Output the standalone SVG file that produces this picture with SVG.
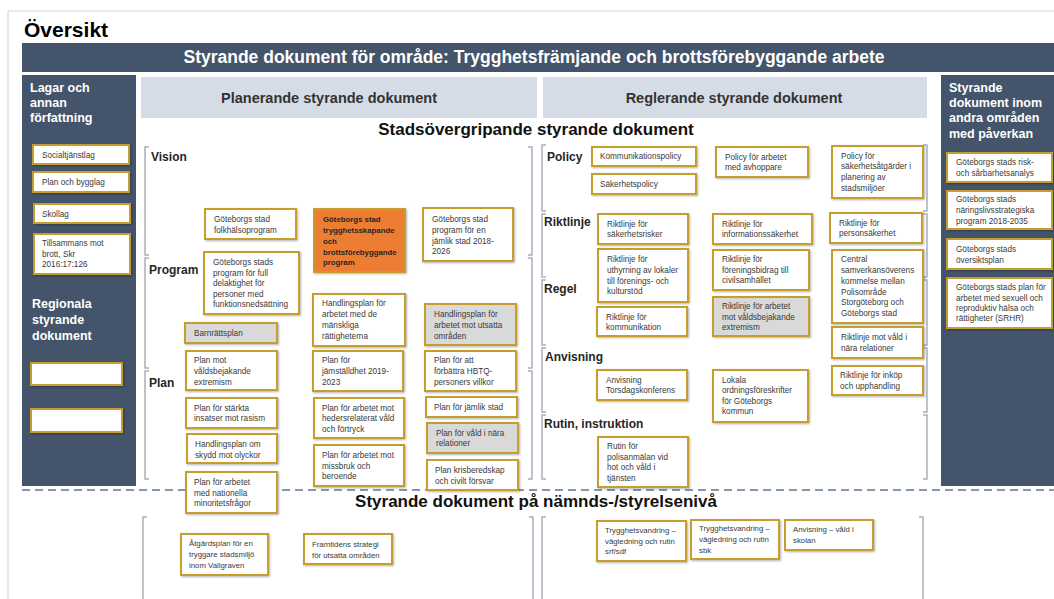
<svg xmlns="http://www.w3.org/2000/svg" width="1054" height="599" viewBox="0 0 1054 599">
<defs>
<filter id="sh" x="-10%" y="-15%" width="130%" height="150%"><feDropShadow dx="1" dy="1" stdDeviation="1" flood-color="#000" flood-opacity="0.3"/></filter>
<style>
.n{fill:#fff;stroke:#C59E2D;stroke-width:2;filter:url(#sh)}
.g{fill:#D9D9D9}
.o{fill:#ED7D31}
.t{font-family:"Liberation Sans",Arial,sans-serif;font-size:8.2px;fill:#3a3a3a}
.tb{font-family:"Liberation Sans",Arial,sans-serif;font-size:7.8px;font-weight:bold;fill:#262626}
.ts{font-family:"Liberation Sans",Arial,sans-serif;font-size:7.8px;fill:#3a3a3a}
.lab{font-family:"Liberation Sans",Arial,sans-serif;font-size:12px;font-weight:bold;fill:#262626}
.wh{font-family:"Liberation Sans",Arial,sans-serif;font-size:12.5px;font-weight:bold;fill:#fff}
.hd{font-family:"Liberation Sans",Arial,sans-serif;font-size:14.5px;font-weight:bold;fill:#333;text-anchor:middle}
.sec{font-family:"Liberation Sans",Arial,sans-serif;font-size:17px;font-weight:bold;fill:#111;text-anchor:middle}
.br{fill:none;stroke:#A9AFB9;stroke-width:1.5}
.dark{fill:#44546A}
.light{fill:#D6DCE5}
</style>
</defs>
<rect width="1054" height="599" fill="#fff"/>
<path d="M8 599 V11 H1054" fill="none" stroke="#D4D4D4" stroke-width="1"/>
<text x="24" y="37" font-family="Liberation Sans, Arial, sans-serif" font-size="21px" font-weight="bold" fill="#000">Översikt</text>

<g id="title-bar">
<rect class="dark" x="22" y="43" width="1032" height="29"/>
<text x="534" y="63" font-family="Liberation Sans, Arial, sans-serif" font-size="17.5px" font-weight="bold" fill="#fff" text-anchor="middle">Styrande dokument för område: Trygghetsfrämjande och brottsförebyggande arbete</text>
</g>

<g id="left-panel">
<rect class="dark" x="22" y="75" width="114" height="411"/>
<text class="wh"><tspan x="30" y="92">Lagar och</tspan><tspan x="30" y="107">annan</tspan><tspan x="30" y="122">författning</tspan></text>
<text class="wh" font-size="13px"><tspan x="32" y="308">Regionala</tspan><tspan x="32" y="324">styrande</tspan><tspan x="32" y="340">dokument</tspan></text>
</g>

<g id="right-panel">
<rect class="dark" x="941" y="75" width="113" height="411"/>
<text class="wh" font-size="13px"><tspan x="949" y="92">Styrande</tspan><tspan x="949" y="107">dokument inom</tspan><tspan x="949" y="122">andra områden</tspan><tspan x="949" y="138">med påverkan</tspan></text>
</g>

<g id="headers">
<rect class="light" x="141" y="77" width="396" height="41"/>
<text class="hd" x="329" y="103">Planerande styrande dokument</text>
<rect class="light" x="543" y="77" width="384" height="41"/>
<text class="hd" x="734" y="103">Reglerande styrande dokument</text>
<text class="sec" x="536" y="135">Stadsövergripande styrande dokument</text>
<text class="sec" x="536" y="507">Styrande dokument på nämnds-/styrelsenivå</text>
</g>

<g id="connectors">
<line x1="22" y1="490" x2="1054" y2="490" stroke="#8497B0" stroke-width="2" stroke-dasharray="8 5"/>
<path class="br" d="M149 147 H145 V255 H149 M149 258 H145 V368 H149 M149 371 H145 V479 H149"/>
<path class="br" d="M528 147 H532 V255 H528 M528 258 H532 V368 H528 M528 371 H532 V479 H528"/>
<path class="br" d="M546 145 H542 V211 H546 M546 214 H542 V277 H546 M546 280 H542 V345 H546 M546 348 H542 V412 H546 M546 415 H542 V479 H546"/>
<path class="br" d="M923 145 H927 V211 H923 M923 214 H927 V277 H923 M923 280 H927 V345 H923 M923 348 H927 V412 H923 M923 415 H927 V479 H923"/>
<path class="br" d="M147 517 H143 V599"/>
<path class="br" d="M529 517 H533 V599"/>
<path class="br" d="M546 517 H542 V599"/>
<path class="br" d="M919 517 H923 V599"/>
</g>

<g id="section-labels">
<text class="lab" x="151" y="161">Vision</text>
<text class="lab" x="149" y="274">Program</text>
<text class="lab" x="149" y="387">Plan</text>
<text class="lab" x="547" y="161">Policy</text>
<text class="lab" x="544" y="226">Riktlinje</text>
<text class="lab" x="544" y="293">Regel</text>
<text class="lab" x="545" y="361">Anvisning</text>
<text class="lab" x="544" y="428">Rutin, instruktion</text>
</g>

<g id="n-socialtjanstlag"><rect class="n" x="33" y="145" width="96" height="19"/><text class="t"><tspan x="42" y="158">Socialtjänstlag</tspan></text></g>
<g id="n-planbygglag"><rect class="n" x="33" y="172" width="96" height="20"/><text class="t"><tspan x="42" y="185">Plan och bygglag</tspan></text></g>
<g id="n-skollag"><rect class="n" x="34" y="204" width="96" height="19"/><text class="t"><tspan x="42" y="217">Skollag</tspan></text></g>
<g id="n-tillsammans"><rect class="n" x="34" y="234" width="96" height="40"/><text class="t"><tspan x="42" y="246">Tillsammans mot</tspan><tspan x="42" y="257">brott, Skr</tspan><tspan x="42" y="267">2016:17:126</tspan></text></g>
<g id="n-regional1"><rect class="n" x="31" y="363" width="91" height="22"/></g>
<g id="n-regional2"><rect class="n" x="31" y="409" width="91" height="23"/></g>

<g id="r-risk"><rect class="n" x="947" y="153" width="105" height="29"/><text class="t"><tspan x="956" y="165">Göteborgs stads risk-</tspan><tspan x="956" y="176">och sårbarhetsanalys</tspan></text></g>
<g id="r-naringsliv"><rect class="n" x="947" y="191" width="105" height="38"/><text class="t"><tspan x="956" y="202">Göteborgs stads</tspan><tspan x="956" y="213">näringslivsstrategiska</tspan><tspan x="956" y="224">program  2018-2035</tspan></text></g>
<g id="r-oversikt"><rect class="n" x="947" y="239" width="105" height="30"/><text class="t"><tspan x="956" y="252">Göteborgs stads</tspan><tspan x="956" y="263">översiktsplan</tspan></text></g>
<g id="r-srhr"><rect class="n" x="947" y="278" width="105" height="50"/><text class="t"><tspan x="956" y="290">Göteborgs stads plan för</tspan><tspan x="956" y="301">arbetet med sexuell och</tspan><tspan x="956" y="311">reproduktiv hälsa och</tspan><tspan x="956" y="321">rättigheter (SRHR)</tspan></text></g>

<g id="p-folkhalso"><rect class="n" x="205" y="209" width="91" height="30"/><text class="t"><tspan x="214" y="222">Göteborgs stad</tspan><tspan x="214" y="233">folkhälsoprogram</tspan></text></g>
<g id="p-trygghet"><rect class="n o" x="314" y="209" width="91" height="63"/><text class="tb"><tspan x="323" y="222">Göteborgs stad</tspan><tspan x="323" y="233">trygghetsskapande</tspan><tspan x="323" y="244">och</tspan><tspan x="323" y="255">brottsförebyggande</tspan><tspan x="323" y="265">program</tspan></text></g>
<g id="p-jamlikprogram"><rect class="n" x="423" y="208" width="90" height="53"/><text class="t"><tspan x="432" y="222">Göteborgs stad</tspan><tspan x="432" y="233">program för en</tspan><tspan x="432" y="244">jämlik stad 2018-</tspan><tspan x="432" y="254">2026</tspan></text></g>
<g id="p-delaktighet"><rect class="n" x="204" y="252" width="95" height="62"/><text class="t"><tspan x="213" y="265">Göteborgs stads</tspan><tspan x="213" y="276">program för full</tspan><tspan x="213" y="286">delaktighet för</tspan><tspan x="213" y="297">personer med</tspan><tspan x="213" y="307">funktionsnedsättning</tspan></text></g>
<g id="p-rattigheter"><rect class="n" x="313" y="294" width="92" height="52"/><text class="t"><tspan x="322" y="306">Handlingsplan för</tspan><tspan x="322" y="317">arbetet med de</tspan><tspan x="322" y="328">mänskliga</tspan><tspan x="322" y="339">rättigheterna</tspan></text></g>
<g id="p-utsatta"><rect class="n g" x="425" y="304" width="91" height="41"/><text class="t"><tspan x="434" y="317">Handlingsplan för</tspan><tspan x="434" y="328">arbetet mot utsatta</tspan><tspan x="434" y="339">områden</tspan></text></g>
<g id="p-barnratt"><rect class="n g" x="185" y="323" width="92" height="20"/><text class="t"><tspan x="194" y="336">Barnrättsplan</tspan></text></g>
<g id="p-extremism"><rect class="n" x="186" y="351" width="91" height="39"/><text class="t"><tspan x="194" y="363">Plan mot</tspan><tspan x="194" y="374">våldsbejakande</tspan><tspan x="194" y="385">extremism</tspan></text></g>
<g id="p-jamstalldhet"><rect class="n" x="313" y="351" width="90" height="40"/><text class="t"><tspan x="322" y="363">Plan för</tspan><tspan x="322" y="374">jämställdhet 2019-</tspan><tspan x="322" y="385">2023</tspan></text></g>
<g id="p-hbtq"><rect class="n" x="425" y="351" width="91" height="40"/><text class="t"><tspan x="434" y="363">Plan för att</tspan><tspan x="434" y="374">förbättra HBTQ-</tspan><tspan x="434" y="385">personers villkor</tspan></text></g>
<g id="p-rasism"><rect class="n" x="186" y="398" width="91" height="30"/><text class="t"><tspan x="194" y="411">Plan för stärkta</tspan><tspan x="194" y="421">insatser mot rasism</tspan></text></g>
<g id="p-heder"><rect class="n" x="314" y="398" width="90" height="40"/><text class="t"><tspan x="322" y="411">Plan för arbetet mot</tspan><tspan x="322" y="421">hedersrelaterat våld</tspan><tspan x="322" y="432">och förtryck</tspan></text></g>
<g id="p-jamlikstad"><rect class="n" x="426" y="397" width="91" height="20"/><text class="t"><tspan x="434" y="410">Plan för jämlik stad</tspan></text></g>
<g id="p-olyckor"><rect class="n" x="187" y="434" width="90" height="29"/><text class="t"><tspan x="195" y="447">Handlingsplan om</tspan><tspan x="195" y="458">skydd mot olyckor</tspan></text></g>
<g id="p-missbruk"><rect class="n" x="314" y="445" width="90" height="41"/><text class="t"><tspan x="322" y="458">Plan för arbetet mot</tspan><tspan x="322" y="469">missbruk och</tspan><tspan x="322" y="479">beroende</tspan></text></g>
<g id="p-naravald"><rect class="n g" x="427" y="423" width="91" height="30"/><text class="t"><tspan x="436" y="436">Plan för våld i nära</tspan><tspan x="436" y="446">relationer</tspan></text></g>
<g id="p-kris"><rect class="n" x="427" y="460" width="91" height="30"/><text class="t"><tspan x="435" y="473">Plan krisberedskap</tspan><tspan x="435" y="484">och civilt försvar</tspan></text></g>
<g id="p-minoritet"><rect class="n" x="186" y="472" width="91" height="41"/><text class="t"><tspan x="194" y="485">Plan för arbetet</tspan><tspan x="194" y="496">med nationella</tspan><tspan x="194" y="506">minoritetsfrågor</tspan></text></g>

<g id="g-kommunikationspolicy"><rect class="n" x="592" y="147" width="104" height="19"/><text class="t"><tspan x="600" y="159">Kommunikationspolicy</tspan></text></g>
<g id="g-sakerhetspolicy"><rect class="n" x="592" y="174" width="104" height="20"/><text class="t"><tspan x="600" y="187">Säkerhetspolicy</tspan></text></g>
<g id="g-avhoppare"><rect class="n" x="716" y="147" width="92" height="30"/><text class="t"><tspan x="725" y="160">Policy för arbetet</tspan><tspan x="725" y="170">med avhoppare</tspan></text></g>
<g id="g-sakerhetsatgarder"><rect class="n" x="832" y="146" width="91" height="52"/><text class="t"><tspan x="841" y="159">Policy för</tspan><tspan x="841" y="169">säkerhetsåtgärder i</tspan><tspan x="841" y="180">planering av</tspan><tspan x="841" y="191">stadsmiljöer</tspan></text></g>
<g id="g-sakerhetsrisker"><rect class="n" x="598" y="214" width="90" height="30"/><text class="t"><tspan x="607" y="227">Riktlinje för</tspan><tspan x="607" y="237">säkerhetsrisker</tspan></text></g>
<g id="g-informationssakerhet"><rect class="n" x="713" y="214" width="99" height="30"/><text class="t"><tspan x="722" y="227">Riktlinje för</tspan><tspan x="722" y="237">informationssäkerhet</tspan></text></g>
<g id="g-personsakerhet"><rect class="n" x="830" y="213" width="92" height="30"/><text class="t"><tspan x="839" y="226">Riktlinje för</tspan><tspan x="839" y="236">personsäkerhet</tspan></text></g>
<g id="g-uthyrning"><rect class="n" x="598" y="249" width="90" height="53"/><text class="t"><tspan x="607" y="262">Riktlinje för</tspan><tspan x="607" y="273">uthyrning av lokaler</tspan><tspan x="607" y="284">till förenings- och</tspan><tspan x="607" y="294">kulturstöd</tspan></text></g>
<g id="g-foreningsbidrag"><rect class="n" x="713" y="250" width="96" height="40"/><text class="t"><tspan x="722" y="262">Riktlinje för</tspan><tspan x="722" y="273">föreningsbidrag till</tspan><tspan x="722" y="283">civilsamhället</tspan></text></g>
<g id="g-central"><rect class="n" x="832" y="250" width="91" height="73"/><text class="t"><tspan x="841" y="262">Central</tspan><tspan x="841" y="273">samverkansöverens</tspan><tspan x="841" y="284">kommelse mellan</tspan><tspan x="841" y="295">Polisområde</tspan><tspan x="841" y="305">Storgöteborg och</tspan><tspan x="841" y="316">Göteborgs stad</tspan></text></g>
<g id="g-kommunikation"><rect class="n" x="597" y="307" width="90" height="29"/><text class="t"><tspan x="606" y="320">Riktlinje för</tspan><tspan x="606" y="330">kommunikation</tspan></text></g>
<g id="g-extremism"><rect class="n g" x="713" y="297" width="96" height="39"/><text class="t"><tspan x="722" y="309">Riktlinje för arbetet</tspan><tspan x="722" y="320">mot våldsbejakande</tspan><tspan x="722" y="330">extremism</tspan></text></g>
<g id="g-naravald"><rect class="n" x="832" y="327" width="91" height="31"/><text class="t"><tspan x="841" y="340">Riktlinje mot våld i</tspan><tspan x="841" y="351">nära relationer</tspan></text></g>
<g id="g-torsdag"><rect class="n" x="597" y="370" width="90" height="30"/><text class="t"><tspan x="606" y="383">Anvisning</tspan><tspan x="606" y="393">Torsdagskonferens</tspan></text></g>
<g id="g-lokala"><rect class="n" x="713" y="370" width="95" height="52"/><text class="t"><tspan x="722" y="383">Lokala</tspan><tspan x="722" y="393">ordningsföreskrifter</tspan><tspan x="722" y="404">för Göteborgs</tspan><tspan x="722" y="414">kommun</tspan></text></g>
<g id="g-inkop"><rect class="n" x="832" y="366" width="91" height="29"/><text class="t"><tspan x="840" y="378">Riktlinje för inköp</tspan><tspan x="840" y="389">och upphandling</tspan></text></g>
<g id="g-rutin"><rect class="n" x="598" y="437" width="90" height="50"/><text class="t"><tspan x="607" y="449">Rutin för</tspan><tspan x="607" y="460">polisanmälan vid</tspan><tspan x="607" y="470">hot och våld i</tspan><tspan x="607" y="481">tjänsten</tspan></text></g>

<g id="b-atgardsplan"><rect class="n" x="181" y="534" width="87" height="41"/><text class="ts"><tspan x="189" y="546">Åtgärdsplan för en</tspan><tspan x="189" y="557">tryggare stadsmiljö</tspan><tspan x="189" y="568">inom Vallgraven</tspan></text></g>
<g id="b-framtidens"><rect class="n" x="304" y="534" width="88" height="30"/><text class="ts"><tspan x="312" y="547">Framtidens strategi</tspan><tspan x="312" y="558">för utsatta områden</tspan></text></g>
<g id="b-trygg-srf"><rect class="n" x="597" y="521" width="89" height="40"/><text class="ts"><tspan x="605" y="533">Trygghetsvandring –</tspan><tspan x="605" y="544">vägledning och rutin</tspan><tspan x="605" y="554">srf/sdf</tspan></text></g>
<g id="b-trygg-sbk"><rect class="n" x="691" y="520" width="88" height="39"/><text class="ts"><tspan x="699" y="531">Trygghetsvandring –</tspan><tspan x="699" y="542">vägledning och rutin</tspan><tspan x="699" y="553">sbk</tspan></text></g>
<g id="b-anvisning-skolan"><rect class="n" x="785" y="520" width="88" height="30"/><text class="ts"><tspan x="793" y="532">Anvisning – våld i</tspan><tspan x="793" y="543">skolan</tspan></text></g>
</svg>
